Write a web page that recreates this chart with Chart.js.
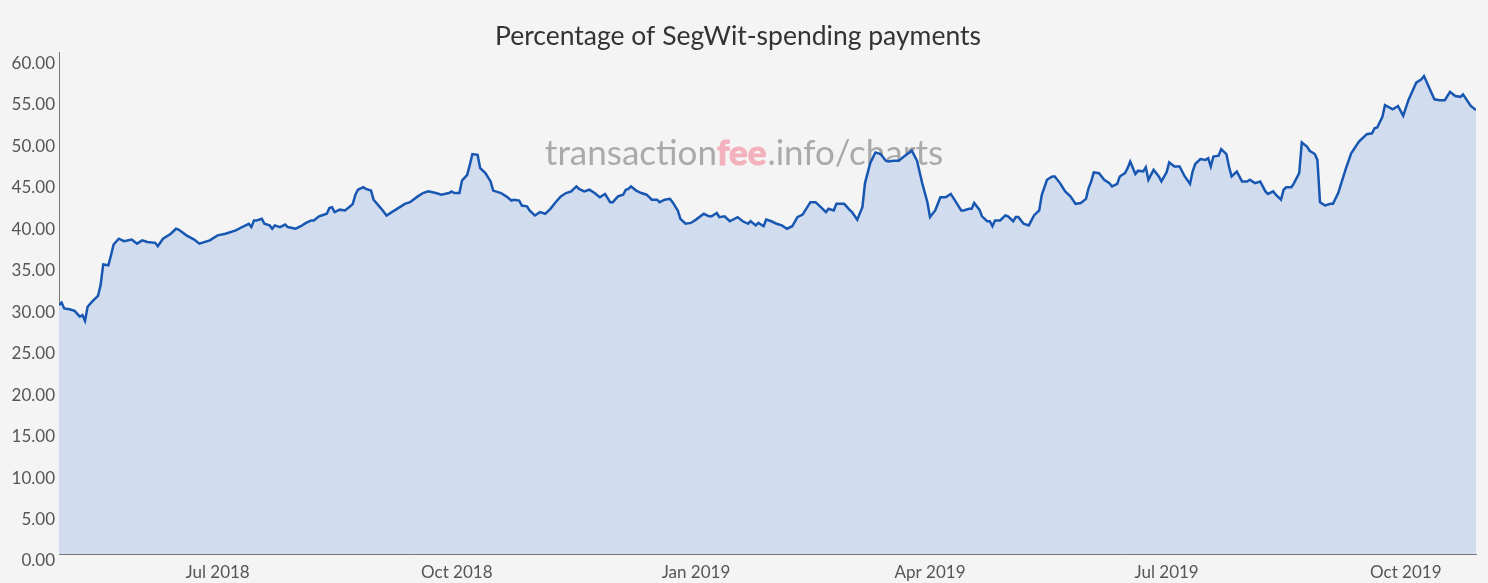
<!DOCTYPE html>
<html>
<head>
<meta charset="utf-8">
<title>Percentage of SegWit-spending payments</title>
<script src="https://cdn.jsdelivr.net/npm/chart.js@4/dist/chart.umd.min.js"></script>
<style>
    html, body { margin: 0; padding: 0; background: #f4f4f4; }
    .chart-box { position: relative; width: 1488px; height: 583px; }
</style>
</head>
<body>
<div class="chart-box"><canvas id="segwitChart"></canvas></div>
<script>
// Daily readings (percentage of payments spending SegWit outputs)
const dates = [
    '2018-05-01','2018-05-02','2018-05-03','2018-05-05','2018-05-07','2018-05-09','2018-05-10','2018-05-11','2018-05-12','2018-05-14',
    '2018-05-16','2018-05-17','2018-05-18','2018-05-20','2018-05-21','2018-05-22','2018-05-24','2018-05-26','2018-05-29','2018-05-31',
    '2018-06-02','2018-06-04','2018-06-07','2018-06-08','2018-06-10','2018-06-13','2018-06-15','2018-06-16','2018-06-19','2018-06-22',
    '2018-06-24','2018-06-28','2018-07-01','2018-07-04','2018-07-08','2018-07-11','2018-07-13','2018-07-14','2018-07-15','2018-07-16',
    '2018-07-18','2018-07-19','2018-07-21','2018-07-22','2018-07-23','2018-07-25','2018-07-27','2018-07-28','2018-07-31','2018-08-02',
    '2018-08-04','2018-08-06','2018-08-07','2018-08-09','2018-08-10','2018-08-12','2018-08-13','2018-08-14','2018-08-15','2018-08-17',
    '2018-08-19','2018-08-21','2018-08-22','2018-08-23','2018-08-24','2018-08-26','2018-08-27','2018-08-29','2018-08-30','2018-09-02',
    '2018-09-04','2018-09-06','2018-09-08','2018-09-11','2018-09-13','2018-09-16','2018-09-18','2018-09-20','2018-09-23','2018-09-25',
    '2018-09-28','2018-09-29','2018-09-30','2018-10-02','2018-10-03','2018-10-05','2018-10-06','2018-10-07','2018-10-09','2018-10-10',
    '2018-10-12','2018-10-14','2018-10-15','2018-10-18','2018-10-20','2018-10-22','2018-10-23','2018-10-25','2018-10-26','2018-10-28',
    '2018-10-29','2018-10-31','2018-11-02','2018-11-04','2018-11-06','2018-11-08','2018-11-10','2018-11-12','2018-11-14','2018-11-16',
    '2018-11-17','2018-11-19','2018-11-21','2018-11-23','2018-11-25','2018-11-27','2018-11-29','2018-11-30','2018-12-02','2018-12-04',
    '2018-12-05','2018-12-06','2018-12-07','2018-12-09','2018-12-11','2018-12-13','2018-12-15','2018-12-17','2018-12-18','2018-12-20',
    '2018-12-22','2018-12-23','2018-12-25','2018-12-26','2018-12-28','2018-12-30','2019-01-01','2019-01-04','2019-01-06','2019-01-07',
    '2019-01-09','2019-01-10','2019-01-12','2019-01-14','2019-01-17','2019-01-19','2019-01-21','2019-01-22','2019-01-24','2019-01-25',
    '2019-01-27','2019-01-28','2019-01-30','2019-02-01','2019-02-03','2019-02-05','2019-02-07','2019-02-09','2019-02-11','2019-02-14',
    '2019-02-16','2019-02-18','2019-02-20','2019-02-21','2019-02-23','2019-02-24','2019-02-27','2019-03-01','2019-03-02','2019-03-04',
    '2019-03-06','2019-03-07','2019-03-09','2019-03-11','2019-03-13','2019-03-15','2019-03-16','2019-03-18','2019-03-20','2019-03-22',
    '2019-03-25','2019-03-27','2019-03-29','2019-03-31','2019-04-01','2019-04-03','2019-04-05','2019-04-07','2019-04-09','2019-04-11',
    '2019-04-13','2019-04-14','2019-04-16','2019-04-17','2019-04-18','2019-04-20','2019-04-21','2019-04-23','2019-04-24','2019-04-25',
    '2019-04-26','2019-04-28','2019-04-30','2019-05-01','2019-05-03','2019-05-04','2019-05-05','2019-05-07','2019-05-09','2019-05-11',
    '2019-05-13','2019-05-14','2019-05-16','2019-05-18','2019-05-19','2019-05-21','2019-05-23','2019-05-25','2019-05-27','2019-05-29',
    '2019-05-31','2019-06-01','2019-06-02','2019-06-03','2019-06-05','2019-06-07','2019-06-09','2019-06-10','2019-06-12','2019-06-13',
    '2019-06-15','2019-06-16','2019-06-17','2019-06-19','2019-06-20','2019-06-22','2019-06-23','2019-06-24','2019-06-26','2019-06-28',
    '2019-06-29','2019-07-01','2019-07-02','2019-07-04','2019-07-06','2019-07-07','2019-07-08','2019-07-10','2019-07-11','2019-07-12',
    '2019-07-14','2019-07-16','2019-07-17','2019-07-18','2019-07-19','2019-07-21','2019-07-22','2019-07-24','2019-07-25','2019-07-26',
    '2019-07-28','2019-07-30','2019-08-01','2019-08-02','2019-08-04','2019-08-06','2019-08-08','2019-08-09','2019-08-11','2019-08-12',
    '2019-08-14','2019-08-15','2019-08-16','2019-08-18','2019-08-19','2019-08-21','2019-08-22','2019-08-24','2019-08-25','2019-08-27',
    '2019-08-28','2019-08-29','2019-08-31','2019-09-02','2019-09-03','2019-09-05','2019-09-08','2019-09-10','2019-09-13','2019-09-16',
    '2019-09-18','2019-09-19','2019-09-20','2019-09-22','2019-09-23','2019-09-26','2019-09-28','2019-09-30','2019-10-02','2019-10-05',
    '2019-10-07','2019-10-08','2019-10-10','2019-10-12','2019-10-14','2019-10-16','2019-10-18','2019-10-20','2019-10-22','2019-10-23',
    '2019-10-26','2019-10-28'
];

const segwitPercent = [
    30.0, 30.3, 29.6, 29.5, 29.3, 28.6, 28.8, 28.1, 29.8, 30.5,
    31.1, 32.4, 34.9, 34.8, 36.0, 37.3, 38.0, 37.7, 37.9, 37.4,
    37.8, 37.6, 37.5, 37.1, 38.0, 38.6, 39.2, 39.1, 38.4, 37.9,
    37.4, 37.8, 38.4, 38.6, 39.0, 39.5, 39.8, 39.4, 40.2, 40.2,
    40.4, 39.8, 39.6, 39.2, 39.6, 39.4, 39.7, 39.4, 39.2, 39.5,
    39.9, 40.2, 40.2, 40.7, 40.8, 41.0, 41.7, 41.8, 41.2, 41.5,
    41.4, 41.9, 42.2, 43.3, 43.9, 44.2, 44.0, 43.8, 42.7, 41.6,
    40.8, 41.2, 41.6, 42.2, 42.4, 43.1, 43.5, 43.7, 43.5, 43.3,
    43.5, 43.7, 43.5, 43.5, 45.0, 45.7, 46.9, 48.2, 48.1, 46.5,
    45.9, 44.9, 43.8, 43.5, 43.1, 42.6, 42.7, 42.6, 42.0, 41.9,
    41.4, 40.8, 41.2, 41.0, 41.6, 42.4, 43.1, 43.5, 43.7, 44.3,
    44.0, 43.7, 43.9, 43.5, 43.0, 43.4, 42.4, 42.4, 43.1, 43.3,
    43.9, 44.0, 44.3, 43.8, 43.5, 43.3, 42.7, 42.7, 42.4, 42.7,
    42.8, 42.4, 41.4, 40.4, 39.8, 39.9, 40.3, 41.0, 40.7, 40.7,
    41.1, 40.6, 40.7, 40.1, 40.6, 40.1, 39.8, 40.1, 39.6, 39.9,
    39.5, 40.3, 40.1, 39.8, 39.6, 39.2, 39.5, 40.6, 40.9, 42.4,
    42.4, 41.8, 41.2, 41.6, 41.4, 42.2, 42.2, 41.5, 41.2, 40.3,
    41.8, 44.7, 47.1, 48.4, 48.2, 47.4, 47.3, 47.4, 47.4, 47.9,
    48.6, 47.4, 44.7, 42.4, 40.6, 41.4, 43.0, 43.0, 43.4, 42.4,
    41.4, 41.4, 41.6, 41.6, 42.3, 41.5, 40.7, 40.1, 40.1, 39.5,
    40.2, 40.2, 40.8, 40.7, 40.1, 40.6, 40.6, 39.8, 39.6, 40.8,
    41.4, 43.3, 45.1, 45.5, 45.5, 44.7, 43.7, 43.1, 42.2, 42.3,
    42.8, 44.1, 44.9, 46.0, 45.9, 45.1, 44.7, 44.3, 44.6, 45.5,
    45.9, 46.5, 47.3, 45.8, 46.2, 46.1, 46.6, 45.1, 46.3, 45.5,
    44.9, 46.0, 47.2, 46.7, 46.7, 46.1, 45.5, 44.6, 46.1, 47.0,
    47.6, 47.5, 47.7, 46.7, 47.9, 48.0, 48.8, 48.2, 46.7, 45.5,
    46.1, 44.9, 44.9, 45.1, 44.7, 44.9, 43.7, 43.4, 43.7, 43.3,
    42.7, 43.9, 44.2, 44.2, 44.7, 45.9, 49.6, 49.1, 48.6, 48.2,
    47.5, 42.4, 42.0, 42.2, 42.2, 43.5, 46.5, 48.3, 49.7, 50.6,
    50.7, 51.3, 51.4, 52.7, 54.1, 53.6, 54.0, 52.8, 54.7, 56.8,
    57.2, 57.6, 56.2, 54.8, 54.7, 54.7, 55.7, 55.2, 55.1, 55.4,
    54.0, 53.5
];

const xTickDates = ['2018-07-01', '2018-10-01', '2019-01-01', '2019-04-01', '2019-07-01', '2019-10-01'];
const xTickLabels = ['Jul 2018', 'Oct 2018', 'Jan 2019', 'Apr 2019', 'Jul 2019', 'Oct 2019'];
const yTicks = [0, 5, 10, 15, 20, 25, 30, 35, 40, 45, 50, 55, 60];

function toTime(s) {
    const p = s.split('-');
    return Date.UTC(+p[0], +p[1] - 1, +p[2]);
}

// Watermark drawn under the series
const watermarkPlugin = {
    id: 'watermark',
    beforeDatasetsDraw(chart) {
        const c = chart.ctx;
        const parts = [
            { text: 'transaction', font: '35px Lato', color: '#aaaaaa', bold: false },
            { text: 'fee', font: 'bold 35px Lato', color: '#f3b1bd', bold: true },
            { text: '.info/charts', font: '35px Lato', color: '#aaaaaa', bold: false }
        ];
        c.save();
        let total = 0;
        parts.forEach(p => { c.font = p.font; p.w = c.measureText(p.text).width + (p.bold ? 1 : 0); total += p.w; });
        let x = chart.width / 2 - total / 2;
        c.textBaseline = 'alphabetic';
        parts.forEach(p => {
            c.font = p.font;
            c.fillStyle = p.color;
            c.fillText(p.text, x, 165);
            if (p.bold) {
                // thicken the highlighted word a little
                c.strokeStyle = p.color;
                c.lineWidth = 1.2;
                c.strokeText(p.text, x, 165);
            }
            x += p.w;
        });
        c.restore();
    }
};

document.addEventListener('DOMContentLoaded', function() {
    const ctx = document.getElementById('segwitChart').getContext('2d');
    const points = dates.map((d, i) => ({ x: toTime(d), y: segwitPercent[i] }));

    new Chart(ctx, {
        type: 'line',
        data: {
            datasets: [{
                label: 'SegWit-spending payments (%)',
                data: points,
                borderColor: '#1857b1',
                backgroundColor: '#d1ddee',
                borderWidth: 2.5,
                pointRadius: 0,
                tension: 0,
                fill: 'origin'
            }]
        },
        options: {
            responsive: true,
            maintainAspectRatio: false,
            animation: false,
            layout: { padding: { left: 0, right: 12, top: 0, bottom: 0 } },
            plugins: {
                legend: { display: false },
                tooltip: { enabled: false },
                title: {
                    display: true,
                    text: 'Percentage of SegWit-spending payments',
                    color: '#333',
                    font: { family: 'Lato', size: 26.5, weight: 'normal', lineHeight: 1 },
                    padding: { top: 23, bottom: 2.5 }
                }
            },
            scales: {
                x: {
                    type: 'linear',
                    min: toTime(dates[0]),
                    max: toTime(dates[dates.length - 1]),
                    grid: { display: false, drawTicks: false },
                    border: { display: true, color: '#777', width: 1 },
                    afterBuildTicks: scale => {
                        scale.ticks = xTickDates.map(d => ({ value: toTime(d) }));
                    },
                    afterFit: scale => { scale.height = 29; },
                    ticks: {
                        autoSkip: false,
                        maxRotation: 0,
                        padding: 8,
                        color: '#555',
                        font: { family: 'Lato', size: 17 },
                        callback: function(value) {
                            const i = xTickDates.findIndex(d => toTime(d) === value);
                            return i >= 0 ? xTickLabels[i] : '';
                        }
                    }
                },
                y: {
                    min: 0,
                    max: 60.5,
                    grid: { display: false, drawTicks: false },
                    border: { display: true, color: '#777', width: 1 },
                    afterBuildTicks: scale => {
                        scale.ticks = yTicks.map(v => ({ value: v }));
                    },
                    afterFit: scale => { scale.width = 59; },
                    ticks: {
                        padding: 4,
                        labelOffset: 7,
                        color: '#555',
                        font: { family: 'Lato', size: 17 },
                        callback: value => value.toFixed(2)
                    }
                }
            }
        },
        plugins: [watermarkPlugin]
    });
});
</script>
</body>
</html>
